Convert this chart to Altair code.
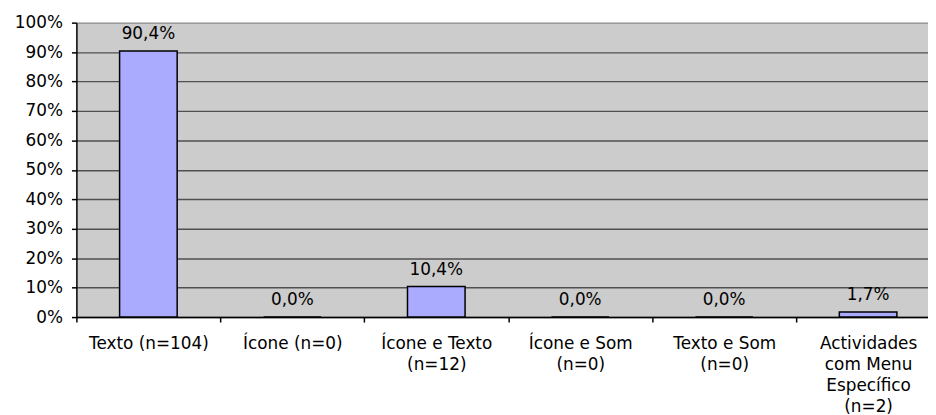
import altair as alt
import pandas as pd

categories = [
    "Texto (n=104)",
    "Ícone (n=0)",
    "Ícone e Texto\n(n=12)",
    "Ícone e Som\n(n=0)",
    "Texto e Som\n(n=0)",
    "Actividades\ncom Menu\nEspecífico\n(n=2)",
]
values = [90.4, 0.0, 10.4, 0.0, 0.0, 1.7]
y_ticks = [0, 10, 20, 30, 40, 50, 60, 70, 80, 90, 100]

df = pd.DataFrame({"cat": categories, "value": values})

FONT = "DejaVu Sans"
FS = 17
STEP = 145.2

x_enc = alt.X(
    "cat:N",
    sort=None,
    title=None,
    scale=alt.Scale(range=[0, STEP * 6], paddingInner=0.6, paddingOuter=0.3),
    axis=alt.Axis(
        tickOffset=-STEP / 2,
        labelOffset=STEP / 2,
        labelAngle=0,
        labelExpr="split(datum.label, '\\n')",
        labelLineHeight=21,
        labelFont=FONT,
        labelFontSize=FS,
        labelColor="#000000",
        labelPadding=14,
        labelBaseline="top",
        ticks=True,
        tickSize=5,
        tickWidth=1.5,
        tickColor="#000000",
        domainColor="#000000",
        domainWidth=1.5,
        grid=False,
        labelBound=False,
        labelFlush=False,
        labelOverlap=False,
    ),
)

y_enc = alt.Y(
    "value:Q",
    title=None,
    scale=alt.Scale(domain=[0, 100], nice=False),
    axis=alt.Axis(
        values=y_ticks,
        labelExpr="datum.value + '%'",
        labelFont=FONT,
        labelFontSize=FS,
        labelColor="#000000",
        labelPadding=9,
        labelOverlap=False,
        labelFlush=False,
        tickSize=5,
        tickWidth=1.5,
        tickColor="#000000",
        domainColor="#000000",
        domainWidth=1.5,
        grid=True,
        gridColor={"condition": {"test": "datum.value == 100", "value": "#9a9a9a"}, "value": "#505050"},
        gridWidth=1.5,
    ),
)

base = alt.Chart(df).transform_calculate(
    label="replace(format(datum.value, '.1f'), '.', ',') + '%'"
)

bars = base.mark_bar(
    fill="#AAAAFF", stroke="#000000", strokeWidth=1.5
).encode(x=x_enc, y=y_enc)

texts = base.mark_text(
    baseline="alphabetic", dy=-12, font=FONT, fontSize=FS, color="#000000"
).encode(x=x_enc, y=y_enc, text="label:N")

chart = (
    alt.layer(bars, texts)
    .properties(
        width=859,
        height=297,
        autosize=alt.AutoSizeParams(type="none"),
        padding={"left": 69, "top": 13, "right": 0, "bottom": 97},
        background="#FFFFFF",
    )
    .configure_view(fill="#CCCCCC", strokeWidth=0)
)

chart.save("out.html", embed_options={"renderer": "svg", "actions": False})
